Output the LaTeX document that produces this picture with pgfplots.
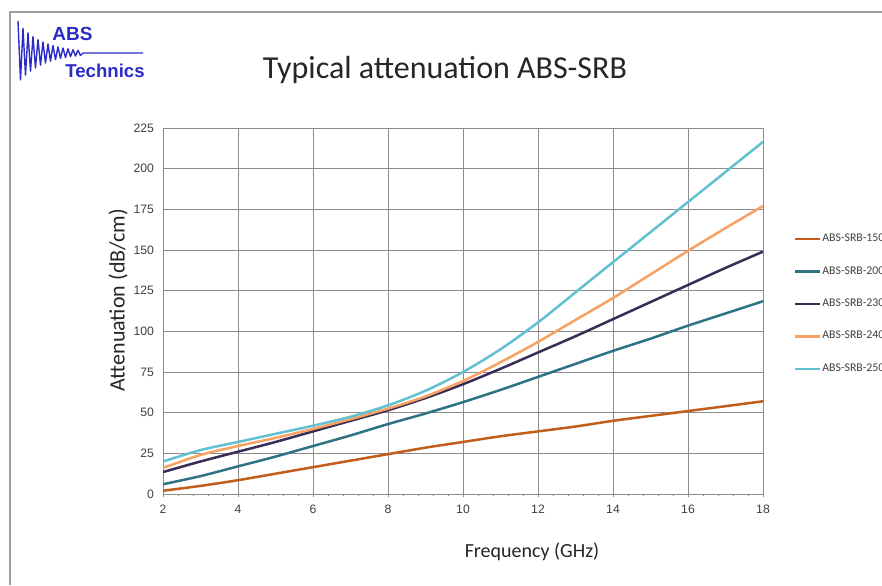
\documentclass[border=0pt]{standalone}
\usepackage{pgfplots}
\pgfplotsset{compat=1.18}
\usepackage{fontspec}
\setmainfont{Carlito}
\newfontfamily\arial{Liberation Sans}

\definecolor{c150}{HTML}{C25E1A}
\definecolor{c200}{HTML}{2E7283}
\definecolor{c230}{HTML}{3A2D55}
\definecolor{c240}{HTML}{F7A263}
\definecolor{c250}{HTML}{62C0D0}
\definecolor{logo}{HTML}{2B2BC8}
\definecolor{gridc}{HTML}{8C8C8C}
\definecolor{txt}{HTML}{404040}

\pgfplotstableread{
f    s150  s200  s230  s240  s250
2    2.0   6.0   13.5  16.0  20.0
3    5.0   11.0  20.0  24.0  27.0
4    8.5   17.0  26.0  29.5  32.0
5    12.5  23.0  32.0  34.5  37.0
6    16.5  29.5  38.5  40.0  42.0
7    20.5  36.0  45.0  46.0  47.5
8    24.5  43.0  51.5  52.5  54.5
9    28.5  49.5  59.0  60.0  63.5
10   32.0  56.5  67.5  69.5  75.0
11   35.5  64.0  77.0  81.0  89.0
12   38.5  72.0  87.0  93.5  105.5
13   41.5  80.0  97.0  107.0 124.0
14   45.0  88.0  107.5 120.5 142.5
15   48.0  95.5  118.0 135.0 161.0
16   51.0  103.5 128.5 149.5 179.5
17   54.0  111.0 139.0 163.5 198.0
18   57.0  118.5 149.0 177.0 216.5
}\atten

\begin{document}
\begin{tikzpicture}[x=0.5pt,y=-0.5pt]
\useasboundingbox (0,0) rectangle (882,585);
\fill[white] (0,0) rectangle (882,585);
% frame
\draw[gray!75, line width=1pt] (10,585) -- (10,12) -- (882,12);

% logo
\draw[logo, line width=0.7pt, line join=round]
  (18,21) -- (20.5,80) -- (23,28.4) -- (25.5,75.2) -- (28,32.9) -- (30.5,71.2)
  -- (33,36.5) -- (35.5,67.9) -- (38,39.5) -- (40.5,65.2) -- (43,42) -- (45.5,63)
  -- (48,44) -- (50.5,61.2) -- (53,45.6) -- (55.5,59.7) -- (58,46.9) -- (60.5,58.5)
  -- (63,48) -- (65.5,57.5) -- (68,48.9) -- (70.5,56.7) -- (73,49.7) -- (75.5,56)
  -- (78,50.3) -- (80.5,55.5) -- (83,53) -- (143,53);
\node[logo, inner sep=0pt, font=\arial\bfseries\fontsize{9.5}{10}\selectfont, anchor=base west] at (52,40) {ABS};
\node[logo, inner sep=0pt, font=\arial\bfseries\fontsize{9.3}{10}\selectfont, anchor=base west] at (65,77) {Technics};

% title
\node[font=\fontsize{16}{18}\selectfont, text=black!85, anchor=base] at (445,78.5) {Typical attenuation ABS-SRB};

\begin{axis}[
  at={(81.5pt,-247pt)}, anchor=south west,
  scale only axis, width=300pt, height=183pt,
  xmin=2, xmax=18, ymin=0, ymax=225,
  xtick={2,4,...,18}, ytick={0,25,...,225},
  minor x tick num=4,
  grid=major,
  grid style={gridc, line width=0.5pt},
  axis line style={gridc, line width=0.5pt},
  tick style={gridc, line width=0.5pt},
  tick align=outside,
  major tick length=1.5pt, minor tick length=1.2pt,
  ytick style={draw=none},
  xtick pos=bottom, ytick pos=left,
  /pgf/number format/assume math mode=true,
  ticklabel style={font=\arial\fontsize{6.1}{7}\selectfont, text=txt},
  xticklabel style={yshift=-0.5pt},
  yticklabel style={xshift=0.5pt},
  xlabel={Frequency (GHz)},
  ylabel={Attenuation (dB/cm)},
  label style={font=\fontsize{10}{12}\selectfont, text=black!85},
  ylabel style={font=\fontsize{11}{12}\selectfont},
  xlabel style={at={(axis description cs:0.615,-0.158)}, anchor=center},
  ylabel style={at={(axis description cs:-0.075,0.53)}, anchor=center},
  legend style={draw=none, fill=none, at={(axis description cs:1.041,0.723)}, anchor=north west,
    font=\fontsize{5.9}{6}\selectfont, text=txt,
    nodes={inner sep=0.5pt, text height=3.5pt, text depth=1pt},
    row sep=10.7pt},
  legend cell align=left,
  legend image code/.code={\draw[#1, line width=1.2pt] (0pt,0pt) -- (12.5pt,0pt);},
  every axis plot/.append style={line width=1.25pt, smooth, no markers},
]
\addplot[c150] table[x=f, y=s150] {\atten};
\addlegendentry{ABS-SRB-150}
\addplot[c200] table[x=f, y=s200] {\atten};
\addlegendentry{ABS-SRB-200}
\addplot[c230] table[x=f, y=s230] {\atten};
\addlegendentry{ABS-SRB-230}
\addplot[c240] table[x=f, y=s240] {\atten};
\addlegendentry{ABS-SRB-240}
\addplot[c250] table[x=f, y=s250] {\atten};
\addlegendentry{ABS-SRB-250}
\end{axis}
\end{tikzpicture}
\end{document}
